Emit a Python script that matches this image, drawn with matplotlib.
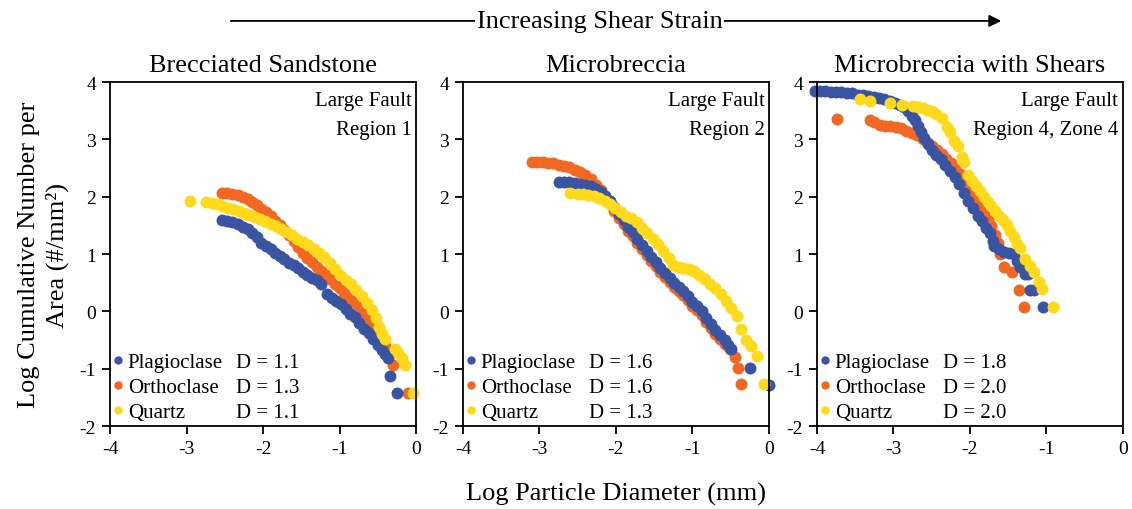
"""Particle size distributions of feldspars and quartz across fault rocks.

"""

import matplotlib
matplotlib.use("Agg")
import matplotlib.pyplot as plt
from matplotlib.lines import Line2D

# panel text
TITLES = ["Brecciated Sandstone", "Microbreccia", "Microbreccia with Shears"]
LOCATIONS = ["Large Fault\nRegion 1", "Large Fault\nRegion 2", "Large Fault\nRegion 4, Zone 4"]
MINERALS = ["Plagioclase", "Orthoclase", "Quartz"]
D_VALUES = [["1.1", "1.3", "1.1"], ["1.6", "1.6", "1.3"], ["1.8", "2.0", "2.0"]]

# panel 1 - brecciated sandstone
p1_plag_x = [-2.54, -2.47, -2.40, -2.33, -2.26, -2.20, -2.14, -2.08, -2.02, -1.96, -1.90, -1.84, -1.78,
             -1.72, -1.66, -1.60, -1.54, -1.48, -1.42, -1.36, -1.30, -1.24, -1.16, -1.10, -1.04, -0.98,
             -0.92, -0.86, -0.80, -0.74, -0.68, -0.62, -0.56, -0.50, -0.45, -0.40, -0.37, -0.34, -0.25]
p1_plag_y = [1.60, 1.58, 1.55, 1.53, 1.48, 1.43, 1.37, 1.30, 1.20, 1.14, 1.08, 1.02, 0.97,
             0.91, 0.84, 0.80, 0.75, 0.69, 0.64, 0.59, 0.54, 0.48, 0.30, 0.24, 0.18, 0.12,
             0.04, -0.04, -0.10, -0.20, -0.30, -0.37, -0.48, -0.58, -0.68, -0.75, -0.82, -1.12, -1.43]
p1_orth_x = [-2.54, -2.47, -2.40, -2.33, -2.26, -2.20, -2.14, -2.08, -2.02, -1.96, -1.90, -1.84, -1.78,
             -1.72, -1.66, -1.60, -1.54, -1.48, -1.42, -1.36, -1.30, -1.24, -1.18, -1.12, -1.06, -1.00,
             -0.94, -0.88, -0.82, -0.76, -0.70, -0.64, -0.58, -0.52, -0.46, -0.41, -0.37, -0.30, -0.10]
p1_orth_y = [2.07, 2.06, 2.05, 2.03, 2.00, 1.96, 1.91, 1.85, 1.79, 1.73, 1.66, 1.58, 1.50,
             1.42, 1.33, 1.22, 1.12, 1.01, 0.93, 0.86, 0.77, 0.70, 0.64, 0.57, 0.48, 0.40,
             0.32, 0.24, 0.17, 0.07, -0.03, -0.14, -0.24, -0.35, -0.48, -0.60, -0.75, -0.93, -1.42]
p1_qtz_x = [-2.95, -2.74, -2.67, -2.60, -2.53, -2.46, -2.39, -2.32, -2.25, -2.18, -2.11, -2.04, -1.97,
            -1.90, -1.83, -1.76, -1.69, -1.62, -1.55, -1.48, -1.41, -1.34, -1.27, -1.20, -1.13, -1.06,
            -0.99, -0.92, -0.85, -0.78, -0.71, -0.64, -0.58, -0.52, -0.49, -0.44, -0.40, -0.28, -0.23,
            -0.18, -0.14, -0.04]
p1_qtz_y = [1.92, 1.91, 1.89, 1.87, 1.84, 1.81, 1.78, 1.75, 1.72, 1.68, 1.65, 1.61, 1.57,
            1.53, 1.49, 1.44, 1.39, 1.33, 1.27, 1.21, 1.15, 1.08, 1.02, 0.94, 0.85, 0.74,
            0.63, 0.55, 0.48, 0.38, 0.27, 0.15, 0.03, -0.12, -0.28, -0.40, -0.49, -0.66, -0.72,
            -0.82, -0.94, -1.42]

# panel 2 - microbreccia
p2_plag_x = [-2.75, -2.68, -2.61, -2.54, -2.47, -2.40, -2.33, -2.26, -2.20, -2.14, -2.08, -2.02, -1.96,
             -1.90, -1.84, -1.78, -1.72, -1.66, -1.60, -1.54, -1.48, -1.42, -1.36, -1.30, -1.24, -1.18,
             -1.12, -1.06, -1.00, -0.94, -0.88, -0.82, -0.76, -0.70, -0.64, -0.58, -0.53, -0.49, -0.25, 0.0]
p2_plag_y = [2.25, 2.25, 2.25, 2.24, 2.23, 2.21, 2.18, 2.14, 2.09, 2.02, 1.93, 1.82, 1.70,
             1.59, 1.48, 1.38, 1.27, 1.16, 1.05, 0.95, 0.86, 0.76, 0.67, 0.59, 0.50, 0.42,
             0.35, 0.27, 0.17, 0.09, 0.00, -0.12, -0.22, -0.33, -0.42, -0.50, -0.58, -0.66, -0.98, -1.29]
p2_orth_x = [-3.10, -3.03, -2.96, -2.89, -2.82, -2.75, -2.68, -2.61, -2.54, -2.47, -2.40, -2.33, -2.26,
             -2.20, -2.14, -2.08, -2.02, -1.96, -1.90, -1.84, -1.78, -1.72, -1.66, -1.60, -1.54, -1.48,
             -1.42, -1.36, -1.30, -1.24, -1.18, -1.12, -1.06, -1.00, -0.94, -0.88, -0.82, -0.76, -0.70,
             -0.64, -0.58, -0.51, -0.44, -0.41, -0.36]
p2_orth_y = [2.60, 2.60, 2.60, 2.59, 2.58, 2.56, 2.54, 2.51, 2.47, 2.43, 2.37, 2.30, 2.21,
             2.12, 2.02, 1.91, 1.75, 1.63, 1.52, 1.41, 1.31, 1.20, 1.09, 0.98, 0.88, 0.79,
             0.69, 0.60, 0.52, 0.43, 0.35, 0.28, 0.20, 0.10, 0.02, -0.07, -0.19, -0.29, -0.40,
             -0.49, -0.57, -0.66, -0.80, -0.98, -1.27]
p2_qtz_x = [-2.60, -2.50, -2.43, -2.36, -2.29, -2.22, -2.15, -2.08, -2.01, -1.94, -1.87, -1.80, -1.73,
            -1.66, -1.59, -1.52, -1.45, -1.38, -1.31, -1.25, -1.19, -1.12, -1.05, -0.98, -0.91, -0.84,
            -0.77, -0.70, -0.63, -0.56, -0.49, -0.42, -0.36, -0.30, -0.24, -0.16, -0.07]
p2_qtz_y = [2.06, 2.05, 2.05, 2.03, 2.01, 1.98, 1.93, 1.87, 1.80, 1.74, 1.67, 1.62, 1.55,
            1.46, 1.37, 1.27, 1.17, 1.06, 0.93, 0.80, 0.77, 0.76, 0.74, 0.70, 0.64, 0.57,
            0.48, 0.40, 0.30, 0.18, 0.06, -0.08, -0.31, -0.50, -0.60, -0.78, -1.27]

# panel 3 - microbreccia with shears
p3_plag_x = [-4.03, -3.96, -3.89, -3.82, -3.75, -3.68, -3.61, -3.54, -3.47, -3.40, -3.33, -3.26, -3.19,
             -3.12, -3.05, -2.98, -2.92, -2.86, -2.81, -2.76, -2.72, -2.68, -2.64, -2.60, -2.55, -2.50,
             -2.44, -2.38, -2.32, -2.26, -2.20, -2.14, -2.08, -2.02, -1.96, -1.90, -1.84, -1.79, -1.74,
             -1.70, -1.68, -1.62, -1.56, -1.49, -1.43, -1.39, -1.35, -1.28, -1.24, -1.22, -1.16, -1.05]
p3_plag_y = [3.85, 3.84, 3.84, 3.83, 3.83, 3.82, 3.81, 3.80, 3.78, 3.77, 3.75, 3.74, 3.72,
             3.70, 3.67, 3.64, 3.60, 3.56, 3.49, 3.41, 3.33, 3.24, 3.13, 3.02, 2.92, 2.82,
             2.73, 2.65, 2.56, 2.45, 2.35, 2.22, 2.07, 1.93, 1.80, 1.67, 1.57, 1.46, 1.36,
             1.22, 1.14, 1.08, 1.03, 1.02, 1.00, 0.88, 0.77, 0.66, 0.65, 0.38, 0.38, 0.07]
p3_orth_x = [-3.74, -3.31, -3.25, -3.18, -3.11, -3.04, -2.97, -2.90, -2.83, -2.76, -2.69, -2.62, -2.55,
             -2.49, -2.43, -2.37, -2.31, -2.25, -2.19, -2.13, -2.07, -2.01, -1.96, -1.91, -1.86, -1.81,
             -1.76, -1.72, -1.67, -1.63, -1.61, -1.56, -1.45, -1.36, -1.30]
p3_orth_y = [3.35, 3.34, 3.30, 3.25, 3.24, 3.23, 3.22, 3.19, 3.15, 3.11, 3.07, 3.01, 2.94,
             2.88, 2.81, 2.74, 2.66, 2.58, 2.49, 2.40, 2.30, 2.19, 2.08, 1.97, 1.86, 1.74,
             1.60, 1.49, 1.34, 1.20, 1.00, 0.78, 0.68, 0.38, 0.07]
p3_qtz_x = [-3.44, -3.31, -3.05, -2.89, -2.74, -2.68, -2.62, -2.56, -2.50, -2.44, -2.37, -2.30, -2.26,
            -2.21, -2.16, -2.11, -2.08, -2.03, -1.97, -1.92, -1.87, -1.82, -1.77, -1.72, -1.67, -1.62,
            -1.57, -1.52, -1.47, -1.43, -1.38, -1.34, -1.28, -1.22, -1.16, -1.10, -1.06, -0.91]
p3_qtz_y = [3.70, 3.67, 3.63, 3.60, 3.59, 3.57, 3.55, 3.52, 3.49, 3.45, 3.38, 3.22, 3.12,
            2.97, 2.88, 2.70, 2.60, 2.37, 2.28, 2.18, 2.10, 2.00, 1.91, 1.83, 1.75, 1.67,
            1.59, 1.50, 1.40, 1.30, 1.18, 1.10, 0.91, 0.79, 0.68, 0.52, 0.39, 0.07]

COLORS = {"Plagioclase": "#3a54a4", "Orthoclase": "#f26722", "Quartz": "#ffda1a"}


def main():

    plt.rcParams["font.family"] = ["Liberation Serif", "DejaVu Serif"]
    plt.rcParams["axes.unicode_minus"] = False

    fig = plt.figure(figsize=(11.32, 5.10), dpi=100)

    # axes placement in figure fraction
    lefts = [0.0972, 0.409, 0.7217]
    panels = [
        {"Plagioclase": (p1_plag_x, p1_plag_y), "Orthoclase": (p1_orth_x, p1_orth_y), "Quartz": (p1_qtz_x, p1_qtz_y)},
        {"Plagioclase": (p2_plag_x, p2_plag_y), "Orthoclase": (p2_orth_x, p2_orth_y), "Quartz": (p2_qtz_x, p2_qtz_y)},
        {"Plagioclase": (p3_plag_x, p3_plag_y), "Orthoclase": (p3_orth_x, p3_orth_y), "Quartz": (p3_qtz_x, p3_qtz_y)},
    ]

    for i, data in enumerate(panels):
        ax = fig.add_axes([lefts[i], 0.1627, 0.2703, 0.6745])
        plot_panel(ax, data, TITLES[i], LOCATIONS[i], D_VALUES[i])

    # shared labels
    fig.text(0.0385, 0.5, "Log Cumulative Number per\nArea (#/mm²)", rotation=90,
             ha="center", va="center", fontsize=19, linespacing=1.35)
    fig.text(0.544, 0.031, "Log Particle Diameter (mm)", ha="center", va="center", fontsize=19)

    # increasing shear strain arrow
    fig.patches.append(matplotlib.patches.FancyArrowPatch(
        (228 / 1132, 0.957), (1004 / 1132, 0.957), transform=fig.transFigure,
        arrowstyle="-|>", mutation_scale=18, lw=1.3, color="black"))
    fig.text(0.5296, 0.957, "Increasing Shear Strain", ha="center", va="center", fontsize=19,
             bbox=dict(facecolor="white", edgecolor="none", pad=1), zorder=5)

    fig.savefig("out.png", dpi=100)


def plot_panel(ax, data, title, location, d_values):
    """Plot one panel of cumulative particle counts.

    Parameters
    ----------
    ax : matplotlib axes
    data : dict
        Mineral name -> (x, y) lists.
    title : str
    location : str
    d_values : list of str

    """

    # draw order: orthoclase under plagioclase, quartz on top
    for name in ["Orthoclase", "Plagioclase", "Quartz"]:
        x, y = data[name]
        ax.scatter(x, y, s=74, color=COLORS[name], linewidths=0, clip_on=False)

    ax.set_xlim(-4, 0)
    ax.set_ylim(-2, 4)
    ax.set_xticks([-4, -3, -2, -1, 0])
    ax.set_yticks([-2, -1, 0, 1, 2, 3, 4])
    ax.tick_params(direction="out", length=6, width=1.3, labelsize=14, pad=4)
    for spine in ax.spines.values():
        spine.set_linewidth(1.3)

    ax.set_title(title, fontsize=19, pad=8)
    ax.text(0.985, 0.975, location, transform=ax.transAxes, ha="right", va="top",
            fontsize=15, linespacing=1.75)

    # legend with minerals and fractal dimension columns
    handles = [Line2D([], [], linestyle="none", marker="o", markersize=6, markeredgewidth=0,
                      color=COLORS[name]) for name in MINERALS]
    handles += [Line2D([], [], linestyle="none") for _ in MINERALS]
    labels = MINERALS + [f"D = {d}" for d in d_values]
    ax.legend(handles, labels, ncol=2, loc="lower left", frameon=False, fontsize=15,
              handlelength=0.4, handletextpad=0.25, columnspacing=0.0, labelspacing=0.25,
              borderaxespad=0.0, borderpad=0.2)


if __name__ == "__main__":
    main()
